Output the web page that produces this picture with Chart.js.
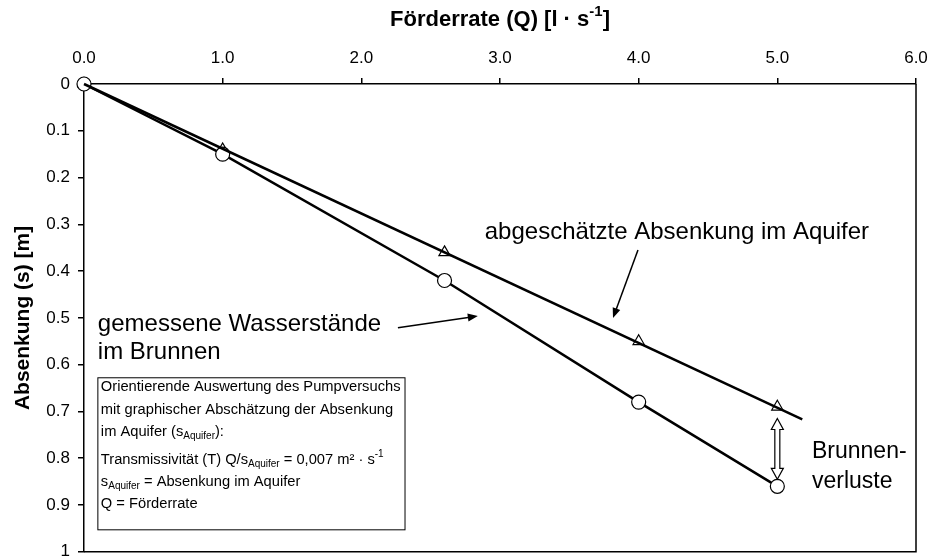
<!DOCTYPE html>
<html>
<head>
<meta charset="utf-8">
<script src="https://cdn.jsdelivr.net/npm/chart.js@4/dist/chart.umd.min.js"></script>
<style>
  html, body { margin: 0; padding: 0; background: #fff; }
  #wrap { width: 936px; height: 560px; }
</style>
</head>
<body>
<div id="wrap"><canvas id="chart" width="936" height="560"></canvas></div>
<script>
// Förderrate Q [l/s] and Absenkung s [m]
const qValues = [0, 1.0, 2.6, 4.0, 5.0];
const sMeasured = [0, 0.15, 0.42, 0.68, 0.86];   // gemessene Wasserstände (Kreise)
const sAquifer = [0, 0.14, 0.36, 0.55, 0.69];    // abgeschätzte Absenkung (Dreiecke)
// Ausgleichsgerade durch die Dreiecke
const aquiferLineQ = [0, 5.18];
const aquiferLineS = [0, 0.717];

const xTickLabels = ['0.0', '1.0', '2.0', '3.0', '4.0', '5.0', '6.0'];
const yTickLabels = ['0', '0.1', '0.2', '0.3', '0.4', '0.5', '0.6', '0.7', '0.8', '0.9', '1'];

const FONT = '"Liberation Sans", Arial, Helvetica, sans-serif';

// draws text made of parts: [text, 'n' | 'sub' | 'sup']
function drawRich(ctx, parts, x, y, size, bold, align) {
    const w = bold ? 'bold ' : '';
    let total = 0;
    parts.forEach(p => {
        ctx.font = w + (p[1] === 'n' ? size : Math.round(size * 0.68)) + 'px ' + FONT;
        total += ctx.measureText(p[0]).width;
    });
    let cx = align === 'center' ? x - total / 2 : x;
    ctx.textAlign = 'left';
    ctx.textBaseline = 'middle';
    parts.forEach(p => {
        let dy = 0;
        if (p[1] === 'n') ctx.font = w + size + 'px ' + FONT;
        else {
            ctx.font = w + Math.round(size * 0.68) + 'px ' + FONT;
            dy = p[1] === 'sup' ? -size * 0.38 : size * 0.3;
        }
        ctx.fillText(p[0], cx, y + dy);
        cx += ctx.measureText(p[0]).width;
    });
}

function arrow(ctx, x1, y1, x2, y2) {
    const a = Math.atan2(y2 - y1, x2 - x1);
    const L = 10, W = 4;
    ctx.beginPath();
    ctx.moveTo(x1, y1);
    ctx.lineTo(x2 - L * 0.8 * Math.cos(a), y2 - L * 0.8 * Math.sin(a));
    ctx.stroke();
    ctx.beginPath();
    ctx.moveTo(x2, y2);
    ctx.lineTo(x2 - L * Math.cos(a) + W * Math.sin(a), y2 - L * Math.sin(a) - W * Math.cos(a));
    ctx.lineTo(x2 - L * Math.cos(a) - W * Math.sin(a), y2 - L * Math.sin(a) + W * Math.cos(a));
    ctx.closePath();
    ctx.fill();
}

const annotations = {
    id: 'annotations',
    afterDraw(chart) {
        const ctx = chart.ctx;
        const xs = chart.scales.x, ys = chart.scales.y;
        const px = v => xs.getPixelForValue(v);
        const py = v => ys.getPixelForValue(v);
        const area = chart.chartArea;
        ctx.save();
        ctx.fillStyle = '#000';
        ctx.strokeStyle = '#000';

        // frame right and bottom
        ctx.lineWidth = 1.5;
        ctx.beginPath();
        ctx.moveTo(area.right, area.top);
        ctx.lineTo(area.right, area.bottom);
        ctx.lineTo(area.left, area.bottom);
        ctx.stroke();

        // axis titles
        drawRich(ctx, [['Förderrate (Q) [l · s', 'n'], ['-1', 'sup'], [']', 'n']],
            (area.left + area.right) / 2, 20, 22, true, 'center');
        ctx.save();
        ctx.translate(23, (area.top + area.bottom) / 2);
        ctx.rotate(-Math.PI / 2);
        drawRich(ctx, [['Absenkung (s) [m]', 'n']], 0, 0, 21, true, 'center');
        ctx.restore();

        // labels
        ctx.font = '24px ' + FONT;
        ctx.textAlign = 'left';
        ctx.textBaseline = 'middle';
        ctx.fillText('abgeschätzte Absenkung im Aquifer', px(2.89), py(0.318));
        ctx.fillText('gemessene Wasserstände', px(0.1), py(0.513));
        ctx.fillText('im Brunnen', px(0.1), py(0.573));
        ctx.font = '23px ' + FONT;
        ctx.fillText('Brunnen-', px(5.25), py(0.786));
        ctx.fillText('verluste', px(5.25), py(0.85));

        ctx.lineWidth = 1.5;
        arrow(ctx, px(3.995), py(0.355), px(3.815), py(0.5));
        arrow(ctx, px(2.264), py(0.521), px(2.84), py(0.496));

        // info box
        const bx1 = px(0.1), by1 = py(0.628), bx2 = px(2.315), by2 = py(0.953);
        ctx.fillStyle = '#fff';
        ctx.fillRect(bx1, by1, bx2 - bx1, by2 - by1);
        ctx.lineWidth = 1;
        ctx.strokeRect(bx1, by1, bx2 - bx1, by2 - by1);
        ctx.fillStyle = '#000';
        const tx = bx1 + 3, fs = 14.7, ty = by1;
        drawRich(ctx, [['Orientierende Auswertung des Pumpversuchs', 'n']], tx, ty + 9, fs);
        drawRich(ctx, [['mit graphischer Abschätzung der Absenkung', 'n']], tx, ty + 32, fs);
        drawRich(ctx, [['im Aquifer (s', 'n'], ['Aquifer', 'sub'], ['):', 'n']], tx, ty + 54, fs);
        drawRich(ctx, [['Transmissivität (T) Q/s', 'n'], ['Aquifer', 'sub'], [' = 0,007 m² · s', 'n'], ['-1', 'sup']], tx, ty + 82, fs);
        drawRich(ctx, [['s', 'n'], ['Aquifer', 'sub'], [' = Absenkung im Aquifer', 'n']], tx, ty + 104, fs);
        drawRich(ctx, [['Q = Förderrate', 'n']], tx, ty + 126, fs);

        // hollow double arrow (Brunnenverluste)
        const ax = px(5.0), ya = py(0.715), yb = py(0.845);
        const hw = 6, sw = 2.5, hl = 11;
        ctx.beginPath();
        ctx.moveTo(ax, ya);
        ctx.lineTo(ax + hw, ya + hl);
        ctx.lineTo(ax + sw, ya + hl);
        ctx.lineTo(ax + sw, yb - hl);
        ctx.lineTo(ax + hw, yb - hl);
        ctx.lineTo(ax, yb);
        ctx.lineTo(ax - hw, yb - hl);
        ctx.lineTo(ax - sw, yb - hl);
        ctx.lineTo(ax - sw, ya + hl);
        ctx.lineTo(ax - hw, ya + hl);
        ctx.closePath();
        ctx.fillStyle = '#fff';
        ctx.fill();
        ctx.lineWidth = 1.2;
        ctx.stroke();
        ctx.restore();
    }
};

new Chart(document.getElementById('chart'), {
    type: 'scatter',
    data: {
        datasets: [
            {
                label: 'Aquifer Gerade',
                data: aquiferLineQ.map((q, i) => ({ x: q, y: aquiferLineS[i] })),
                showLine: true,
                borderColor: '#000',
                borderWidth: 2.5,
                pointRadius: 0,
                clip: false
            },
            {
                label: 'gemessene Wasserstände',
                data: qValues.map((q, i) => ({ x: q, y: sMeasured[i] })),
                showLine: true,
                borderColor: '#000',
                borderWidth: 2.5,
                pointStyle: 'circle',
                pointRadius: 7,
                pointBackgroundColor: '#fff',
                pointBorderColor: '#000',
                pointBorderWidth: 1.2,
                clip: false
            },
            {
                label: 'abgeschätzte Absenkung',
                data: qValues.map((q, i) => ({ x: q, y: sAquifer[i] })),
                showLine: false,
                pointStyle: 'triangle',
                pointRadius: 6.5,
                pointBackgroundColor: '#fff',
                pointBorderColor: '#000',
                pointBorderWidth: 1.2,
                clip: false
            }
        ]
    },
    options: {
        responsive: false,
        animation: false,
        layout: { padding: { left: 0, top: 0, right: 20, bottom: 8 } },
        plugins: { legend: { display: false }, tooltip: { enabled: false } },
        scales: {
            x: {
                type: 'linear',
                position: 'top',
                min: 0, max: 6,
                afterFit: s => { s.height = 84; s.paddingLeft = 0; s.paddingRight = 0; },
                ticks: {
                    stepSize: 1,
                    padding: 9,
                    color: '#000',
                    font: { family: FONT, size: 17 },
                    callback: v => xTickLabels[Math.round(v)]
                },
                grid: { drawOnChartArea: false, tickLength: 6, color: '#000', lineWidth: 1.5 },
                border: { color: '#000', width: 1.5 }
            },
            y: {
                type: 'linear',
                reverse: true,
                min: 0, max: 1,
                afterFit: s => { s.width = 84; s.paddingTop = 0; s.paddingBottom = 0; },
                ticks: {
                    stepSize: 0.1,
                    padding: 8,
                    color: '#000',
                    font: { family: FONT, size: 17 },
                    callback: v => yTickLabels[Math.round(v * 10)]
                },
                grid: { drawOnChartArea: false, tickLength: 6, color: '#000', lineWidth: 1.5 },
                border: { color: '#000', width: 1.5 }
            }
        }
    },
    plugins: [annotations]
});
</script>
</body>
</html>
